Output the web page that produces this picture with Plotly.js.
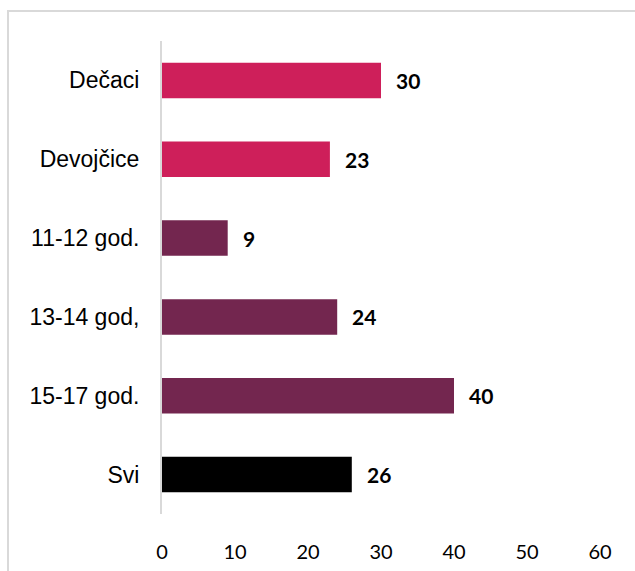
<!DOCTYPE html>
<html>
<head>
<meta charset="utf-8">
<script src="https://cdn.plot.ly/plotly-3.0.1.min.js"></script>
<style>
html,body{margin:0;padding:0;background:#fff;}
#frame{position:absolute;left:7px;top:10px;width:700px;height:700px;border-left:2px solid #d9d9d9;border-top:2px solid #d9d9d9;pointer-events:none;}
#chart{position:absolute;left:0;top:0;width:635px;height:571px;}
</style>
</head>
<body>
<div id="chart"></div>
<div id="frame"></div>
<script>
const categories = ["Dečaci", "Devojčice", "11-12 god.", "13-14 god,", "15-17 god.", "Svi"];
const values = [30, 23, 9, 24, 40, 26];
const barColors = ["#CE1F5A", "#CE1F5A", "#73264F", "#73264F", "#73264F", "#000000"];
const xTicks = [0, 10, 20, 30, 40, 50, 60];

const trace = {
  type: "bar",
  orientation: "h",
  y: categories,
  x: values,
  marker: {color: barColors},
  hoverinfo: "none"
};

const annotations = categories.map((c, i) => ({
  x: values[i], y: c, xref: "x", yref: "y",
  text: "<b>" + values[i] + "</b>",
  showarrow: false, xanchor: "left", xshift: 13,
  font: {family: "Lato, 'Open Sans', sans-serif", size: 21, color: "#000"}
}));

const layout = {
  width: 635, height: 571,
  margin: {l: 162, r: 35, t: 41, b: 57},
  paper_bgcolor: "#fff", plot_bgcolor: "#fff",
  showlegend: false,
  bargap: 0.55,
  xaxis: {
    range: [0, 60], tickvals: xTicks, ticktext: xTicks.map(String),
    showgrid: false, zeroline: false, showline: false, ticks: "",
    ticklabelstandoff: 24,
    tickfont: {family: "Lato, 'Open Sans', sans-serif", size: 20, color: "#000"},
    fixedrange: true
  },
  yaxis: {
    autorange: "reversed", categoryorder: "array", categoryarray: categories,
    showgrid: false, zeroline: false, showline: true, linecolor: "#d9d9d9", linewidth: 2,
    ticks: "", ticklabelstandoff: 16,
    tickfont: {family: "'Liberation Sans', Arial, sans-serif", size: 23, color: "#000"},
    fixedrange: true
  },
  annotations: annotations
};

Plotly.newPlot("chart", [trace], layout, {displayModeBar: false, staticPlot: true});
</script>
</body>
</html>
